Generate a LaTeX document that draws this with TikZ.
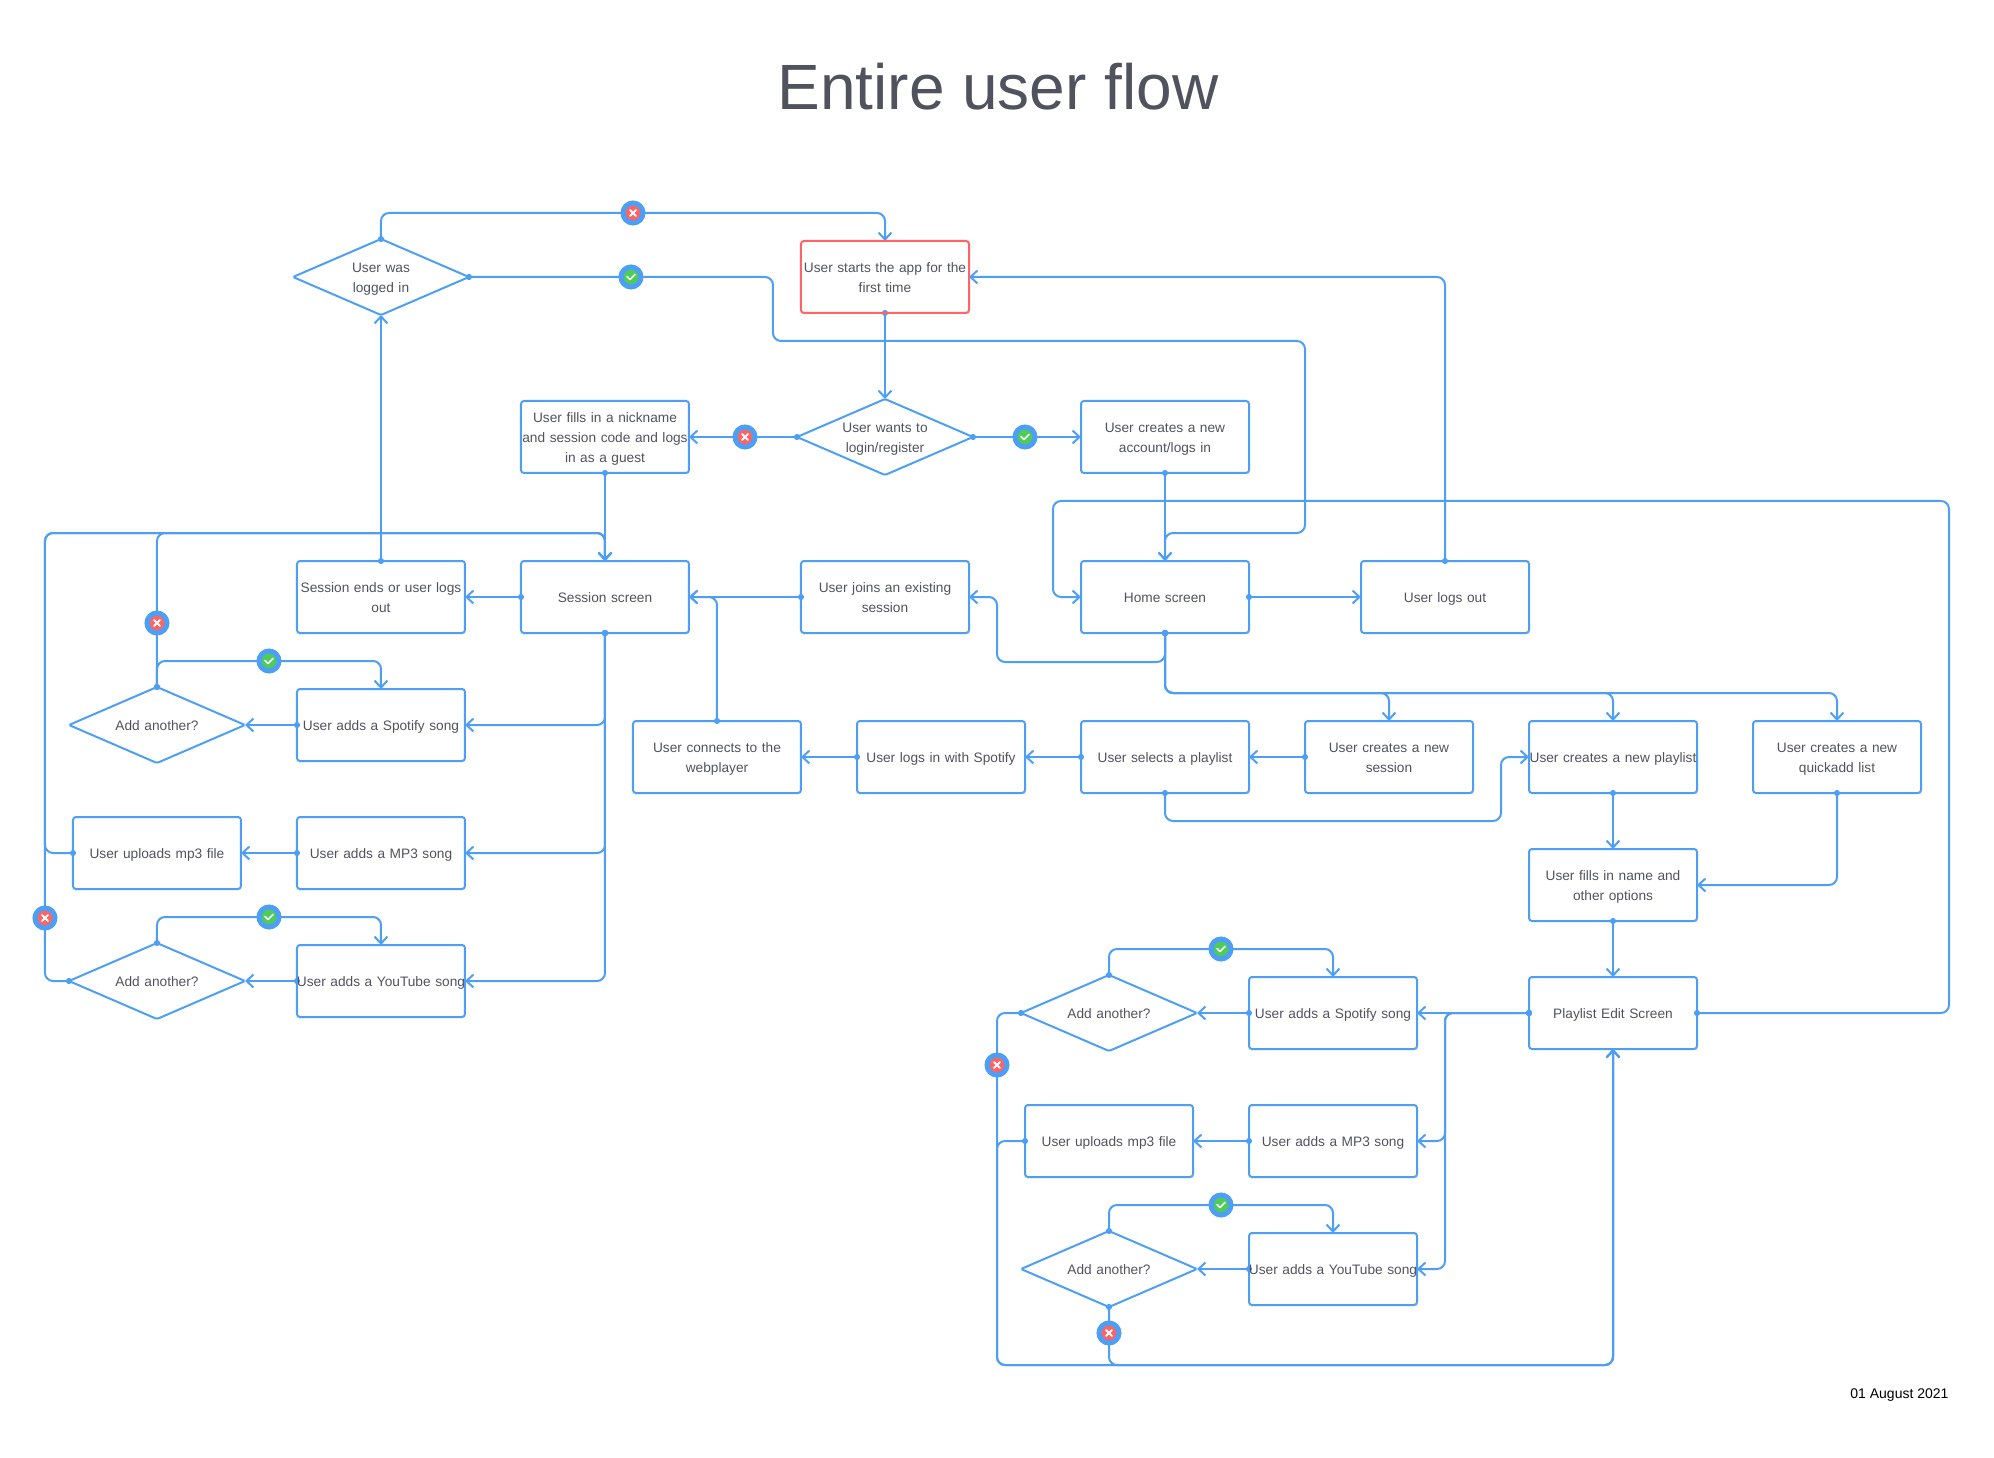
\documentclass[tikz,border=0pt]{standalone}
\usepackage{fontspec}
\setmainfont{Liberation Sans}
\usepackage{tikz}
\usetikzlibrary{shapes.geometric, arrows.meta, backgrounds}
\definecolor{flowblue}{HTML}{4D9FF5}
\definecolor{flowtext}{HTML}{50535E}
\definecolor{flowred}{HTML}{FF6363}
\definecolor{flowgreen}{HTML}{4FCB5A}
\newcommand{\flowstrut}{\rule[-4.5pt]{0pt}{20pt}}
\tikzstyle{block} = [rectangle, draw=flowblue, line width=2pt, text=flowtext, outer sep=0pt, inner ysep=0pt, inner xsep=-15pt,
    font=\fontsize{13.7}{20}\selectfont, text width=198pt, align=center, rounded corners=3pt,
    execute at begin node=\flowstrut, execute at end node=\flowstrut,
    minimum width=168pt, minimum height=72pt]
\tikzstyle{first} = [block, draw=flowred]
\tikzstyle{decision} = [diamond, draw=flowblue, line width=2pt, text=flowtext, outer sep=0pt, inner ysep=0pt, inner xsep=-60pt,
    font=\fontsize{13.7}{20}\selectfont, text width=120pt, align=center, aspect=2.3, rounded corners=1.5pt,
    execute at begin node=\flowstrut, execute at end node=\flowstrut,
    minimum width=176pt, minimum height=76pt]
\tikzstyle{line} = [draw=flowblue, line width=2pt, rounded corners=8pt, shorten <=-3pt,
    {Circle[length=6pt]}-{Straight Barb[length=7pt, width=13pt, line width=2pt]}]
\tikzstyle{badge} = [circle, draw=flowblue, line width=5pt, outer sep=0pt, inner sep=0pt, minimum size=20pt]
\tikzstyle{yesbadge} = [badge, fill=flowgreen, path picture={
    \draw [white, line width=1.6pt, line cap=round, line join=round]
        ([shift={(-4pt,0.5pt)}]path picture bounding box.center) -- ++(3pt,-3pt) -- ++(5pt,5pt);}]
\tikzstyle{nobadge} = [badge, fill=flowred, path picture={
    \draw [white, line width=1.8pt, line cap=round]
        ([shift={(-3pt,-3pt)}]path picture bounding box.center) -- ++(6pt,6pt)
        ([shift={(-3pt,3pt)}]path picture bounding box.center) -- ++(6pt,-6pt);}]

\begin{document}
\begin{tikzpicture}[node distance = 160pt]
            \useasboundingbox (-885pt,277pt) rectangle (1109pt,-1181pt);

            % Place nodes
            \node [first] (app) {User starts the app for the\\first time};
            \node [decision, left of=app, node distance=504pt] (logged) {User was\\logged in};
            \node [decision, below of=app] (wants) {User wants to\\login/register};
            \node [block, right of=wants, node distance=280pt] (create) {User creates a new\\account/logs in};
            \node [block, left of=wants, node distance=280pt] (guest) {User fills in a nickname\\and session code and logs\\in as a guest};

            \node [block, below of=guest] (session) {Session screen};
            \node [block, left of=session, node distance=224pt] (ends) {Session ends or user logs\\out};
            \node [block, right of=session, node distance=280pt] (join) {User joins an existing\\session};
            \node [block, right of=join, node distance=280pt] (home) {Home screen};
            \node [block, right of=home, node distance=280pt] (logsout) {User logs out};

            \node [block, below of=ends, node distance=128pt] (spotify) {User adds a Spotify song};
            \node [decision, left of=spotify, node distance=224pt] (addspotify) {Add another?};
            \node [block, below of=spotify, node distance=128pt] (mpsong) {User adds a MP3 song};
            \node [block, left of=mpsong, node distance=224pt] (upload) {User uploads mp3 file};
            \node [block, below of=mpsong, node distance=128pt] (youtube) {User adds a YouTube song};
            \node [decision, left of=youtube, node distance=224pt] (addyoutube) {Add another?};

            \node [block, below of=join, xshift=-168pt] (webplayer) {User connects to the\\webplayer};
            \node [block, right of=webplayer, node distance=224pt] (spotlogin) {User logs in with Spotify};
            \node [block, right of=spotlogin, node distance=224pt] (select) {User selects a playlist};
            \node [block, right of=select, node distance=224pt] (newsession) {User creates a new\\session};
            \node [block, right of=newsession, node distance=224pt] (newlist) {User creates a new playlist};
            \node [block, right of=newlist, node distance=224pt] (quick) {User creates a new\\quickadd list};
            \node [block, below of=newlist, node distance=128pt] (options) {User fills in name and\\other options};
            \node [block, below of=options, node distance=128pt] (edit) {Playlist Edit Screen};

            \node [block, left of=edit, node distance=280pt] (spotifyb) {User adds a Spotify song};
            \node [decision, left of=spotifyb, node distance=224pt] (addspotifyb) {Add another?};
            \node [block, below of=spotifyb, node distance=128pt] (mpsongb) {User adds a MP3 song};
            \node [block, left of=mpsongb, node distance=224pt] (uploadb) {User uploads mp3 file};
            \node [block, below of=mpsongb, node distance=128pt] (youtubeb) {User adds a YouTube song};
            \node [decision, left of=youtubeb, node distance=224pt] (addyoutubeb) {Add another?};

            \node [above of=app, node distance=190pt, xshift=113pt, text=flowtext, font=\fontsize{64}{70}\selectfont] (title) {Entire user flow};
            \node [below of=edit, node distance=382pt, xshift=339pt, anchor=east, font=\fontsize{14}{16}\selectfont] (date) {01 August 2021};

            % Place badges
            \node [nobadge, above of=app, node distance=64pt, xshift=-252pt] (loggedno) {};
            \node [yesbadge, left of=app, node distance=254pt] (loggedyes) {};
            \node [nobadge, left of=wants, node distance=140pt] (wantsno) {};
            \node [yesbadge, right of=wants, node distance=140pt] (wantsyes) {};
            \node [nobadge, above of=addspotify, node distance=102pt] (spotifyno) {};
            \node [yesbadge, above of=spotify, node distance=64pt, xshift=-112pt] (spotifyyes) {};
            \node [nobadge, above of=addyoutube, node distance=63pt, xshift=-112pt] (youtubeno) {};
            \node [yesbadge, above of=youtube, node distance=64pt, xshift=-112pt] (youtubeyes) {};
            \node [yesbadge, above of=spotifyb, node distance=64pt, xshift=-112pt] (spotifybyes) {};
            \node [nobadge, below of=addspotifyb, node distance=52pt, xshift=-112pt] (spotifybno) {};
            \node [yesbadge, above of=youtubeb, node distance=64pt, xshift=-112pt] (youtubebyes) {};
            \node [nobadge, below of=addyoutubeb, node distance=64pt] (youtubebno) {};

            % Draw edges
            \begin{scope}[on background layer]
            \path [line] (logged.north) |- (loggedno.center) -| (app.north);
            \path [line] (logged.east) -- ++(304pt,0) -- ++(0,-64pt) -- ++(532pt,0) -- ++(0,-192pt) -| (home.north);
            \path [line] (app.south) -- (wants.north);
            \path [line] (wants.east) -- (create.west);
            \path [line] (wants.west) -- (guest.east);
            \path [line] (create.south) -- (home.north);
            \path [line] (guest.south) -- (session.north);
            \path [line] (logsout.north) |- (app.east);

            \path [line] (session.west) -- (ends.east);
            \path [line] (ends.north) -- (logged.south);
            \path [line] (join.west) -- (session.east);
            \path [line] (home.east) -- (logsout.west);
            \path [line] (home.south) -- ++(0,-29pt) -- ++(-168pt,0) |- (join.east);
            \path [line] (webplayer.north) |- (session.east);

            \path [line] (session.south) |- (spotify.east);
            \path [line] (session.south) |- (mpsong.east);
            \path [line] (session.south) |- (youtube.east);
            \path [line] (spotify.west) -- (addspotify.east);
            \path [line] (mpsong.west) -- (upload.east);
            \path [line] (youtube.west) -- (addyoutube.east);
            \path [line] (addspotify.north) |- (spotifyyes.center) -| (spotify.north);
            \path [line] (addyoutube.north) |- (youtubeyes.center) -| (youtube.north);
            \path [line] (addspotify.north) -- ++(0,154pt) -| (session.north);
            \path [line] (upload.west) -- ++(-28pt,0) -- ++(0,320pt) -| (session.north);
            \path [line] (addyoutube.west) -- ++(-24pt,0) -- ++(0,448pt) -| (session.north);

            \path [line] (home.south) -- ++(0,-60pt) -| (newsession.north);
            \path [line] (home.south) -- ++(0,-60pt) -| (newlist.north);
            \path [line] (home.south) -- ++(0,-60pt) -| (quick.north);
            \path [line] (newsession.west) -- (select.east);
            \path [line] (select.west) -- (spotlogin.east);
            \path [line] (spotlogin.west) -- (webplayer.east);
            \path [line] (select.south) -- ++(0,-28pt) -- ++(336pt,0) |- (newlist.west);
            \path [line] (newlist.south) -- (options.north);
            \path [line] (quick.south) |- (options.east);
            \path [line] (options.south) -- (edit.north);
            \path [line] (edit.east) -- ++(252pt,0) -- ++(0,512pt) -- ++(-896pt,0) |- (home.west);

            \path [line] (edit.west) -- (spotifyb.east);
            \path [line] (edit.west) -- ++(-84pt,0) |- (mpsongb.east);
            \path [line] (edit.west) -- ++(-84pt,0) |- (youtubeb.east);
            \path [line] (spotifyb.west) -- (addspotifyb.east);
            \path [line] (mpsongb.west) -- (uploadb.east);
            \path [line] (youtubeb.west) -- (addyoutubeb.east);
            \path [line] (addspotifyb.north) |- (spotifybyes.center) -| (spotifyb.north);
            \path [line] (addyoutubeb.north) |- (youtubebyes.center) -| (youtubeb.north);
            \path [line] (addspotifyb.west) -- ++(-24pt,0) -- ++(0,-352pt) -| (edit.south);
            \path [line] (uploadb.west) -- ++(-28pt,0) -- ++(0,-224pt) -| (edit.south);
            \path [line] (addyoutubeb.south) -- ++(0,-58pt) -| (edit.south);
            \end{scope}

        \end{tikzpicture}
\end{document}
